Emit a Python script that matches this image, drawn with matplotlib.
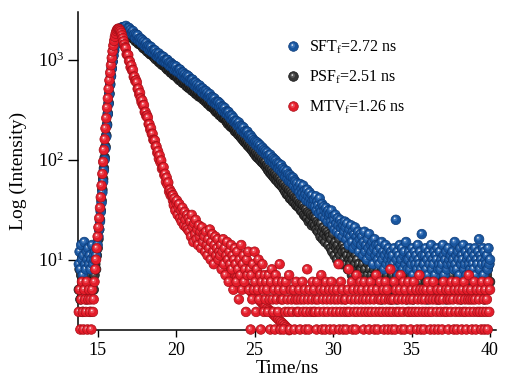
import numpy as np
import matplotlib
matplotlib.use("Agg")
import matplotlib.pyplot as plt
from matplotlib.path import Path
from matplotlib.collections import PathCollection
from matplotlib.lines import Line2D
from matplotlib.legend_handler import HandlerTuple
from matplotlib.transforms import IdentityTransform
from matplotlib.ticker import NullLocator

plt.rcParams["font.family"] = ["Liberation Serif", "DejaVu Serif"]
plt.rcParams["mathtext.fontset"] = "custom"
plt.rcParams["mathtext.rm"] = "Liberation Serif"
plt.rcParams["mathtext.it"] = "Liberation Serif:italic"

# counts per 0.05 ns channel, first channel at 13.80 ns (one row = 1 ns)
t_start = 13.8
dt = 0.05

sft_counts = [
    9, 12, 8, 14, 10, 7, 11, 15, 9, 8, 12, 10, 13, 9, 11, 8, 10, 14, 9, 11,
    10, 12, 11, 13, 14, 17, 20, 24, 30, 37, 47, 60, 78, 100, 130, 170, 220, 285, 360, 450,
    560, 680, 810, 950, 1090, 1230, 1370, 1500, 1620, 1730, 1830, 1910, 1980, 2030, 2070, 2100, 2110, 2100, 2090, 2080,
    2174, 1978, 2081, 1910, 2075, 1901, 1988, 1805, 1870, 1932, 1756, 1816, 1645, 1789, 1656, 1754, 1558, 1626, 1542, 1622,
    1458, 1572, 1443, 1510, 1371, 1421, 1469, 1336, 1383, 1255, 1367, 1268, 1338, 1191, 1247, 1180, 1245, 1237, 1114, 1165,
    1074, 1114, 1154, 1051, 1091, 992, 1083, 1006, 1064, 949, 995, 943, 997, 993, 896, 938, 863, 931, 857, 897,
    876, 797, 869, 809, 854, 761, 798, 756, 799, 795, 716, 750, 689, 743, 683, 715, 650, 674, 698, 635,
    678, 605, 634, 600, 634, 631, 568, 595, 545, 589, 540, 565, 514, 533, 551, 501, 519, 472, 514, 477,
    490, 449, 485, 445, 466, 423, 437, 452, 410, 424, 384, 418, 388, 408, 364, 380, 359, 379, 376, 338,
    363, 330, 342, 309, 337, 312, 328, 291, 304, 286, 302, 298, 268, 279, 256, 275, 251, 262, 238, 245,
    234, 243, 220, 228, 235, 213, 219, 198, 215, 199, 209, 185, 193, 182, 191, 190, 170, 177, 162, 174,
    158, 165, 151, 157, 146, 152, 140, 149, 137, 144, 131, 139, 128, 123, 132, 120, 126, 115, 122, 112,
    118, 108, 111, 99, 112, 100, 97, 105, 92, 101, 89, 98, 86, 93, 82, 91, 84, 78, 88, 75,
    82, 71, 79, 68, 74, 77, 64, 72, 61, 70, 60, 67, 58, 66, 55, 62, 60, 51, 58, 50,
    53, 47, 57, 44, 51, 46, 55, 42, 49, 45, 39, 50, 43, 38, 47, 41, 36, 44, 39, 35,
    40, 34, 43, 31, 38, 35, 29, 41, 33, 30, 36, 27, 34, 31, 26, 33, 29, 24, 31, 27,
    29, 24, 31, 22, 27, 25, 20, 28, 23, 19, 26, 22, 18, 25, 21, 23, 17, 22, 19, 24,
    21, 16, 23, 18, 14, 20, 17, 22, 15, 19, 13, 18, 21, 14, 17, 15, 19, 12, 16, 18,
    14, 17, 11, 15, 19, 12, 14, 10, 16, 13, 18, 11, 14, 12, 15, 9, 13, 16, 11, 14,
    12, 10, 14, 9, 13, 11, 15, 10, 12, 8, 11, 14, 9, 12, 10, 13, 11, 9, 12, 10,
    11, 9, 13, 8, 25, 10, 12, 7, 11, 14, 9, 10, 13, 8, 11, 12, 9, 15, 10, 8,
    10, 12, 8, 11, 9, 13, 7, 10, 12, 9, 11, 8, 14, 10, 9, 12, 8, 18, 11, 9,
    9, 11, 13, 8, 10, 7, 12, 9, 11, 14, 8, 10, 9, 12, 7, 11, 10, 13, 8, 9,
    12, 8, 10, 9, 14, 11, 7, 10, 12, 8, 9, 13, 10, 6, 11, 9, 12, 10, 8, 15,
    9, 11, 8, 12, 10, 7, 13, 9, 11, 10, 14, 8, 9, 12, 7, 10, 11, 9, 13, 8,
    10, 12, 9, 8, 11, 13, 7, 10, 9, 12, 16, 8, 11, 10, 9, 13, 7, 12, 10, 9,
    11, 8, 13, 9, 10,
]

psf_counts = [
    5, 8, 4, 7, 9, 3, 6, 10, 5, 7, 4, 8, 6, 9, 5, 3, 7, 6, 8, 5,
    7, 9, 8, 11, 13, 16, 20, 25, 31, 39, 50, 64, 82, 105, 135, 175, 225, 290, 370, 460,
    570, 690, 820, 960, 1100, 1240, 1380, 1510, 1630, 1740, 1830, 1910, 1970, 2010, 2040, 2050, 2040, 2020, 1990, 1960,
    1979, 1853, 1899, 1776, 1875, 1755, 1762, 1665, 1740, 1629, 1702, 1610, 1536, 1605, 1503, 1539, 1440, 1520, 1423, 1429,
    1378, 1384, 1308, 1367, 1278, 1336, 1263, 1206, 1261, 1180, 1209, 1131, 1194, 1117, 1122, 1126, 1054, 1080, 1010, 1066,
    1050, 992, 947, 990, 926, 949, 888, 937, 877, 881, 884, 827, 847, 793, 837, 784, 787, 743, 777, 728,
    745, 697, 735, 689, 692, 696, 651, 668, 625, 660, 619, 622, 588, 616, 577, 604, 571, 545, 571, 534,
    521, 551, 516, 519, 491, 513, 481, 503, 476, 455, 476, 446, 458, 428, 453, 424, 427, 428, 402, 412,
    410, 384, 402, 380, 363, 379, 354, 363, 339, 357, 334, 335, 336, 314, 321, 300, 316, 296, 297, 280,
    293, 274, 280, 262, 276, 258, 258, 258, 241, 245, 228, 241, 227, 216, 225, 210, 218, 204, 204, 192,
    201, 188, 194, 179, 185, 173, 180, 165, 172, 158, 166, 151, 160, 146, 153, 139, 148, 134, 141, 129,
    134, 123, 130, 117, 124, 111, 119, 106, 114, 103, 110, 99, 106, 95, 102, 92, 98, 88, 95, 84,
    89, 79, 86, 75, 82, 72, 79, 69, 75, 66, 73, 63, 70, 61, 67, 58, 65, 56, 62, 54,
    59, 51, 57, 48, 54, 45, 52, 44, 50, 41, 48, 40, 46, 38, 44, 37, 42, 35, 41, 34,
    39, 33, 37, 31, 36, 30, 35, 28, 33, 27, 32, 26, 30, 24, 29, 25, 28, 22, 27, 23,
    27, 22, 26, 20, 24, 19, 23, 21, 17, 23, 19, 16, 21, 18, 15, 20, 17, 19, 14, 18,
    17, 13, 16, 12, 18, 14, 11, 15, 13, 10, 14, 12, 16, 11, 13, 9, 12, 14, 10, 13,
    12, 9, 11, 8, 13, 10, 9, 11, 7, 10, 12, 8, 9, 11, 7, 10, 8, 9, 12, 8,
    8, 6, 9, 7, 5, 8, 10, 6, 7, 9, 5, 8, 6, 7, 11, 6, 8, 5, 7, 9,
    6, 8, 5, 7, 9, 6, 4, 8, 7, 10, 5, 6, 8, 7, 9, 5, 6, 8, 4, 7,
    7, 5, 8, 6, 9, 4, 7, 6, 8, 5, 10, 7, 6, 9, 5, 8, 6, 7, 4, 8,
    6, 9, 5, 7, 8, 6, 4, 7, 9, 5, 8, 6, 7, 10, 5, 6, 8, 7, 5, 9,
    7, 5, 8, 6, 4, 9, 7, 6, 8, 5, 7, 10, 6, 5, 8, 7, 9, 4, 6, 8,
    5, 8, 7, 6, 9, 5, 7, 8, 4, 6, 9, 7, 5, 8, 6, 10, 7, 5, 8, 6,
    8, 6, 5, 9, 7, 6, 8, 4, 7, 9, 6, 5, 8, 7, 6, 9, 5, 7, 8, 6,
    6, 9, 7, 5, 8, 6, 10, 7, 5, 8, 6, 7, 9, 5, 6, 8, 7, 4, 9, 6,
    7, 8, 5, 9, 6,
]

mtv_counts = [
    3, 5, 2, 4, 6, 3, 2, 5, 4, 3, 6, 2, 4, 5, 3, 4, 2, 5, 3, 4,
    6, 8, 10, 13, 17, 21, 26, 33, 42, 55, 72, 95, 125, 160, 205, 260, 330, 410, 510, 620,
    740, 880, 1040, 1210, 1380, 1540, 1690, 1820, 1930, 2000, 2040, 2030, 1990, 1930, 1850, 1750, 1640, 1530, 1420, 1330,
    1298, 1131, 1120, 1113, 970, 963, 838, 875, 778, 788, 673, 675, 612, 620, 590, 510, 511, 449, 465, 409,
    374, 390, 347, 351, 299, 300, 273, 276, 263, 227, 226, 200, 206, 181, 181, 158, 157, 155, 136, 135,
    117, 121, 102, 110, 94, 98, 81, 83, 84, 70, 72, 60, 66, 56, 59, 48, 50, 44, 47, 44,
    44, 35, 41, 31, 37, 39, 28, 33, 36, 26, 31, 24, 33, 27, 22, 30, 25, 21, 28, 20,
    26, 19, 24, 17, 28, 21, 15, 23, 18, 25, 16, 20, 14, 22, 17, 19, 13, 21, 15, 18,
    17, 12, 19, 14, 11, 16, 13, 20, 10, 15, 18, 12, 9, 14, 17, 11, 13, 16, 10, 12,
    11, 14, 8, 12, 16, 9, 13, 7, 11, 15, 10, 6, 12, 9, 14, 8, 11, 5, 10, 13,
    9, 6, 12, 8, 4, 10, 7, 14, 5, 9, 11, 6, 8, 3, 10, 7, 12, 5, 8, 2,
    7, 4, 9, 5, 12, 6, 3, 8, 5, 10, 4, 7, 2, 6, 9, 5, 3, 7, 4, 6,
    5, 3, 7, 4, 2, 6, 8, 4, 3, 5, 2, 7, 4, 6, 3, 5, 9, 2, 4, 6,
    4, 2, 5, 3, 6, 1, 4, 3, 7, 2, 5, 4, 3, 0, 5, 2, 4, 6, 3, 4,
    3, 5, 2, 4, 1, 6, 3, 4, 5, 2, 3, 8, 4, 2, 5, 3, 1, 4, 6, 3,
    5, 3, 4, 2, 6, 4, 3, 1, 5, 7, 2, 4, 3, 5, 2, 6, 4, 3, 0, 5,
    2, 4, 6, 3, 5, 2, 4, 1, 3, 5, 4, 9, 2, 3, 6, 4, 5, 2, 3, 4,
    4, 2, 3, 5, 8, 3, 1, 4, 6, 2, 5, 3, 4, 2, 7, 3, 5, 4, 1, 6,
    3, 5, 4, 2, 6, 3, 4, 1, 5, 3, 2, 4, 6, 3, 5, 0, 4, 2, 3, 7,
    5, 2, 4, 3, 6, 4, 1, 3, 5, 2, 4, 6, 3, 5, 2, 4, 3, 8, 4, 2,
    3, 4, 6, 2, 5, 3, 1, 4, 3, 5, 7, 2, 4, 3, 6, 2, 5, 4, 1, 3,
    6, 3, 4, 2, 5, 3, 4, 6, 1, 3, 5, 2, 4, 3, 7, 5, 2, 4, 3, 5,
    2, 4, 3, 5, 1, 6, 3, 4, 2, 5, 3, 4, 6, 2, 0, 4, 3, 5, 2, 4,
    4, 3, 5, 2, 4, 6, 3, 1, 5, 3, 4, 2, 5, 4, 3, 6, 1, 4, 2, 5,
    3, 6, 2, 4, 5, 3, 1, 4, 2, 5, 3, 6, 4, 3, 2, 5, 4, 7, 3, 4,
    5, 2, 4, 3, 6, 4, 2, 5, 3, 1, 4, 3, 5, 2, 6, 3, 4, 2, 5, 3,
    4, 2, 6, 3, 5,
]

# MTV fitted decay, 0.1 ns steps from 19.8 ns
mtv_fit_start = 19.8
mtv_fit_step = 0.1
mtv_fit = [
    39, 36, 34, 32, 30, 28, 26.8, 25.4, 24.2, 23.0,
    21.9, 20.9, 20.0, 19.1, 18.2, 17.4, 16.7, 15.9, 15.2, 14.6,
    13.9, 13.4, 13.0, 12.5, 12.1, 11.7, 11.3, 10.9, 10.5, 10.2,
    9.8, 9.5, 9.15, 8.85, 8.55, 8.25, 7.95, 7.7, 7.4, 7.15,
    6.9, 6.65, 6.4, 6.2, 5.95, 5.75, 5.5, 5.3, 5.1, 4.95,
    4.75, 4.6, 4.4, 4.25, 4.1, 3.95, 3.8, 3.65, 3.5, 3.4,
    3.25, 3.15, 3.05, 2.94, 2.83, 2.73, 2.63, 2.54, 2.45, 2.37,
    2.29, 2.21, 2.13, 2.05, 1.97,
]

labels = ["SFT$_\\mathrm{f}$=2.72 ns", "PSF$_\\mathrm{f}$=2.51 ns", "MTV$_\\mathrm{f}$=1.26 ns"]
# base, rim, glow
sft_col = ("#19569f", "#0c3a78", "#5f92d2")
psf_col = ("#363636", "#151515", "#7d7d7d")
mtv_col = ("#e41d2a", "#a50f18", "#f27780")

ball_size = 48


def spot(cx, cy, r):
    # circle with two empty moves so marker scaling keeps the ball's frame
    circ = Path.circle((cx, cy), r)
    verts = np.concatenate([[[-0.5, -0.5], [0.5, 0.5]], circ.vertices])
    codes = np.concatenate([[Path.MOVETO, Path.MOVETO], circ.codes])
    return Path(verts, codes)


ball = Path.circle((0, 0), 0.5)
glow = spot(-0.08, 0.1, 0.24)
shine = spot(-0.12, 0.15, 0.09)


def spheres(ax, t, c, cols, z):
    t = np.asarray(t, float)
    c = np.asarray(c, float)
    keep = c >= 1.9
    xy = np.repeat(np.column_stack([t[keep], c[keep]]), 3, axis=0)
    coll = PathCollection(
        [ball, glow, shine], sizes=[ball_size],
        offsets=xy, offset_transform=ax.transData,
        facecolors=[cols[0], (*matplotlib.colors.to_rgb(cols[2]), 0.5), (1, 1, 1, 0.85)],
        edgecolors=[cols[1], (0, 0, 0, 0), (0, 0, 0, 0)],
        linewidths=[0.5, 0, 0], zorder=z)
    coll.set_transform(IdentityTransform())
    coll.set_clip_on(False)
    ax.add_collection(coll, autolim=False)


def legend_handle(cols):
    ms = np.sqrt(ball_size)
    b = Line2D([], [], ls="none", marker=ball, ms=ms, mfc=cols[0], mec=cols[1], mew=0.5)
    g = Line2D([], [], ls="none", marker=glow, ms=ms, mfc=cols[2], mew=0, alpha=0.5)
    s = Line2D([], [], ls="none", marker=shine, ms=ms, mfc="white", mew=0, alpha=0.85)
    return (b, g, s)


fig = plt.figure(figsize=(5.05, 3.78), dpi=100)
ax = fig.add_axes([0.1545, 0.1283, 0.8283, 0.8402])
ax.set_yscale("log")
ax.set_xlim(13.75, 40.4)
ax.set_ylim(2, 3000)

grid = t_start + dt * np.arange(len(sft_counts))
fit_t = mtv_fit_start + mtv_fit_step * np.arange(len(mtv_fit))

spheres(ax, grid, psf_counts, psf_col, 3)
spheres(ax, grid, sft_counts, sft_col, 4)
spheres(ax, fit_t, mtv_fit, mtv_col, 5)
spheres(ax, grid, mtv_counts, mtv_col, 6)

ax.spines["top"].set_visible(False)
ax.spines["right"].set_visible(False)
for s in ("left", "bottom"):
    ax.spines[s].set_linewidth(1.1)

ax.set_xticks([15, 20, 25, 30, 35, 40])
ax.yaxis.set_minor_locator(NullLocator())
ax.tick_params(axis="x", direction="out", length=5, width=1.0, labelsize=13, pad=4)
ax.tick_params(axis="y", direction="out", length=7, width=1.0, labelsize=13, pad=3)
ax.set_xlabel("Time/ns", fontsize=14, labelpad=1)
ax.set_ylabel("Log (Intensity)", fontsize=14, labelpad=8)

handles = [legend_handle(sft_col), legend_handle(psf_col), legend_handle(mtv_col)]
ax.legend(handles, labels, handler_map={tuple: HandlerTuple(ndivide=1, pad=0)},
          loc="upper left", bbox_to_anchor=(0.496, 0.916), frameon=False,
          fontsize=11.5, handlelength=1.0, handletextpad=0.45, labelspacing=0.78,
          borderpad=0, borderaxespad=0, numpoints=1)

fig.savefig("out.png", dpi=100)
